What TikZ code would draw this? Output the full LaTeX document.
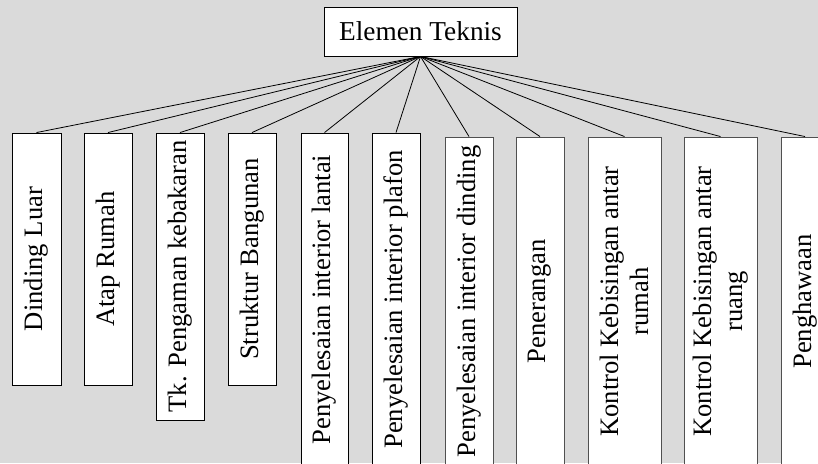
\documentclass[tikz,border=0pt]{standalone}
\usepackage{fontspec}
\setmainfont{Liberation Serif}
\definecolor{bggray}{HTML}{DADADA}
\definecolor{edgegray}{HTML}{505050}
\begin{document}
\begin{tikzpicture}[x=1pt,y=-1pt,
  topbox/.style={draw=black,fill=white,line width=0.9pt,minimum width=193pt,minimum height=49pt,inner sep=0pt,
    font=\fontsize{27.3}{31}\selectfont},
  vb/.style={draw=black,fill=white,line width=0.9pt,rotate=90,inner sep=0pt,align=center,
    font=\fontsize{26.6}{30.5}\selectfont},
  vbg/.style={vb,draw=edgegray},
  conn/.style={draw=black,line width=0.8pt}]
\fill[bggray] (0,0) rectangle (818,463);
\useasboundingbox (0,0) rectangle (818,463);
\clip (0,0) rectangle (818,463);
\node[topbox] (top) at (420.5,31.5) {Elemen Teknis};
\node[vb, minimum width=252pt, minimum height=49pt] (b1) at (36.5,259) {Dinding Luar};
\node[vb, minimum width=252pt, minimum height=48pt] (b2) at (108,259) {Atap Rumah};
\node[vb, minimum width=287pt, minimum height=48pt] (b3) at (180,276.5) {Tk. Pengaman kebakaran};
\node[vb, minimum width=252pt, minimum height=48pt] (b4) at (252,259) {Struktur Bangunan};
\node[vb, minimum width=333pt, minimum height=47pt] (b5) at (324.5,299.5) {Penyelesaian interior lantai};
\node[vb, minimum width=333pt, minimum height=48pt] (b6) at (396,299.5) {Penyelesaian interior plafon};
\node[vbg, minimum width=329pt, minimum height=48pt] (b7) at (469,301.5) {Penyelesaian interior dinding};
\node[vbg, minimum width=329pt, minimum height=48pt] (b8) at (540,301.5) {Penerangan};
\node[vbg, minimum width=329pt, minimum height=73pt] (b9) at (624.5,301.5) {Kontrol Kebisingan antar\\rumah};
\node[vbg, minimum width=329pt, minimum height=73pt] (b10) at (720.5,301.5) {Kontrol Kebisingan antar\\ruang};
\node[vbg, minimum width=329pt, minimum height=48pt] (b11) at (805,301.5) {Penghawaan};
\foreach \b in {b1,b2,b3,b4,b5,b6,b7,b8,b9,b10,b11}
  \draw[conn] (top.south) -- (\b.east);
\end{tikzpicture}
\end{document}
